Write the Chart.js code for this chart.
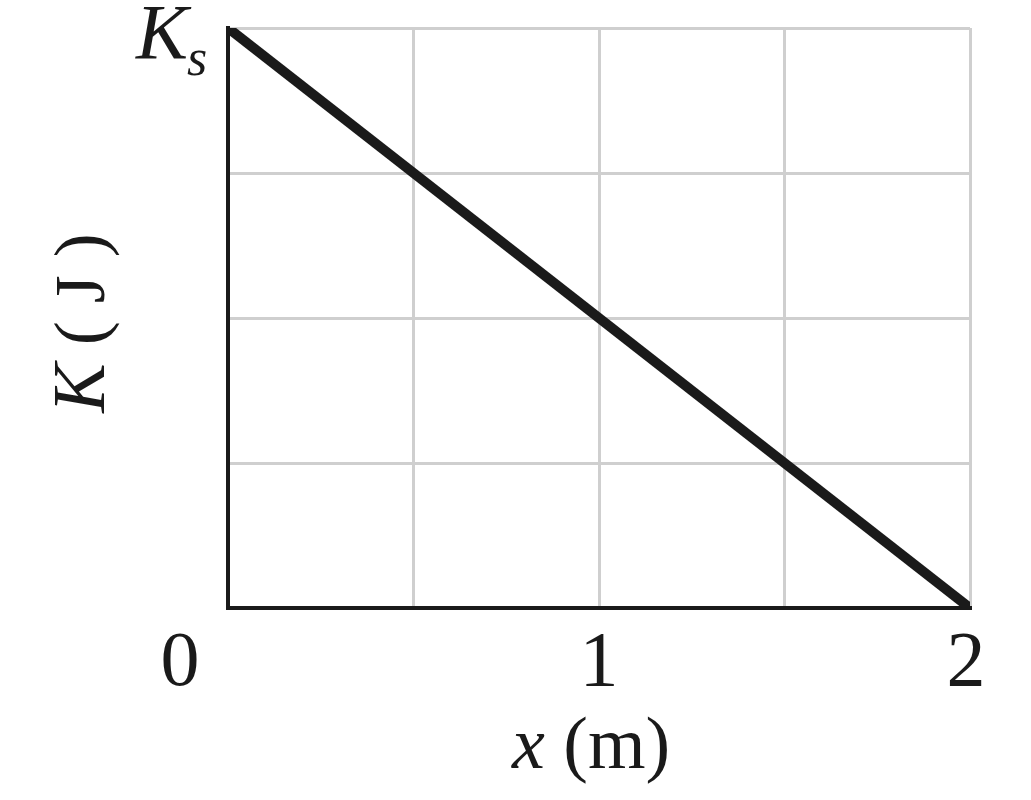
<!DOCTYPE html>
<html lang="en">
<head>
    <meta charset="UTF-8">
    <title>K vs x</title>
    <script src="https://cdn.jsdelivr.net/npm/chart.js"></script>
    <style>
        html, body { margin: 0; padding: 0; background: #fff; }
        #wrap { width: 1031px; height: 800px; }
    </style>
</head>
<body>
    <div id="wrap"><canvas id="kChart" width="1031" height="800"></canvas></div>

    <script>
        // data (K in units of Ks)
        const xValues = [0, 2];
        const kValues = [1, 0];
        const xTickValues = [0, 1, 2];
        const xTickLabels = ['0', '1', '2'];
        const yTickValue = 1;
        const yTickMain = 'K';
        const yTickSub = 's';

        const serif = '"Liberation Serif", "DejaVu Serif", serif';

        // draws the tick labels and axis titles in the textbook style
        const labelPlugin = {
            id: 'labels',
            afterDraw(chart) {
                const ctx = chart.ctx;
                const xs = chart.scales.x;
                const ys = chart.scales.y;
                const area = chart.chartArea;
                ctx.save();
                ctx.fillStyle = '#1a1a1a';
                ctx.textBaseline = 'alphabetic';

                ctx.font = '78px ' + serif;
                ctx.textAlign = 'center';
                xTickValues.forEach((v, i) => {
                    let px = xs.getPixelForValue(v);
                    if (i === 0) px -= 48;
                    if (i === xTickValues.length - 1) px -= 4;
                    ctx.fillText(xTickLabels[i], px, area.bottom + 77);
                });

                // Ks at the top of the K axis
                const ty = ys.getPixelForValue(yTickValue);
                ctx.textAlign = 'right';
                ctx.font = 'italic 78px ' + serif;
                ctx.fillText(yTickMain, area.left - 40, ty + 30);
                ctx.textAlign = 'left';
                ctx.font = 'italic 52px ' + serif;
                ctx.fillText(yTickSub, area.left - 41, ty + 47);

                // x axis title
                const cx = (area.left + area.right) / 2;
                ctx.font = 'italic 74px ' + serif;
                const xw = ctx.measureText('x').width;
                ctx.font = '74px ' + serif;
                const mw = ctx.measureText(' (m)').width;
                const start = cx - (xw + mw) / 2 - 8;
                ctx.textAlign = 'left';
                ctx.font = 'italic 74px ' + serif;
                ctx.fillText('x', start, area.bottom + 160);
                ctx.font = '74px ' + serif;
                ctx.fillText(' (m)', start + xw, area.bottom + 160);

                // y axis title
                ctx.translate(area.left - 124, (area.top + area.bottom) / 2 + 5);
                ctx.rotate(-Math.PI / 2);
                ctx.font = 'italic 74px ' + serif;
                const kw = ctx.measureText('K').width;
                ctx.font = '72px ' + serif;
                const jw = ctx.measureText(' ( J )').width;
                const s0 = -(kw + jw) / 2;
                ctx.font = 'italic 74px ' + serif;
                ctx.fillText('K', s0, 0);
                ctx.font = '72px ' + serif;
                ctx.fillText(' ( J )', s0 + kw, 0);
                ctx.restore();
            }
        };

        new Chart(document.getElementById('kChart'), {
            type: 'line',
            data: {
                datasets: [{
                    data: xValues.map((x, i) => ({ x: x, y: kValues[i] })),
                    borderColor: '#1a1a1a',
                    borderWidth: 10,
                    pointRadius: 0,
                    tension: 0
                }]
            },
            options: {
                responsive: false,
                animation: false,
                layout: { padding: { left: 228, right: 61, top: 28, bottom: 192 } },
                plugins: { legend: { display: false }, tooltip: { enabled: false } },
                scales: {
                    x: {
                        type: 'linear',
                        min: 0,
                        max: 2,
                        ticks: { display: false, stepSize: 0.5 },
                        grid: { color: '#cfcfcf', lineWidth: 3, drawTicks: false },
                        border: { color: '#1a1a1a', width: 4 }
                    },
                    y: {
                        min: 0,
                        max: 1,
                        ticks: { display: false, stepSize: 0.25 },
                        grid: { color: '#cfcfcf', lineWidth: 3, drawTicks: false },
                        border: { color: '#1a1a1a', width: 4 }
                    }
                }
            },
            plugins: [labelPlugin]
        });
    </script>
</body>
</html>
